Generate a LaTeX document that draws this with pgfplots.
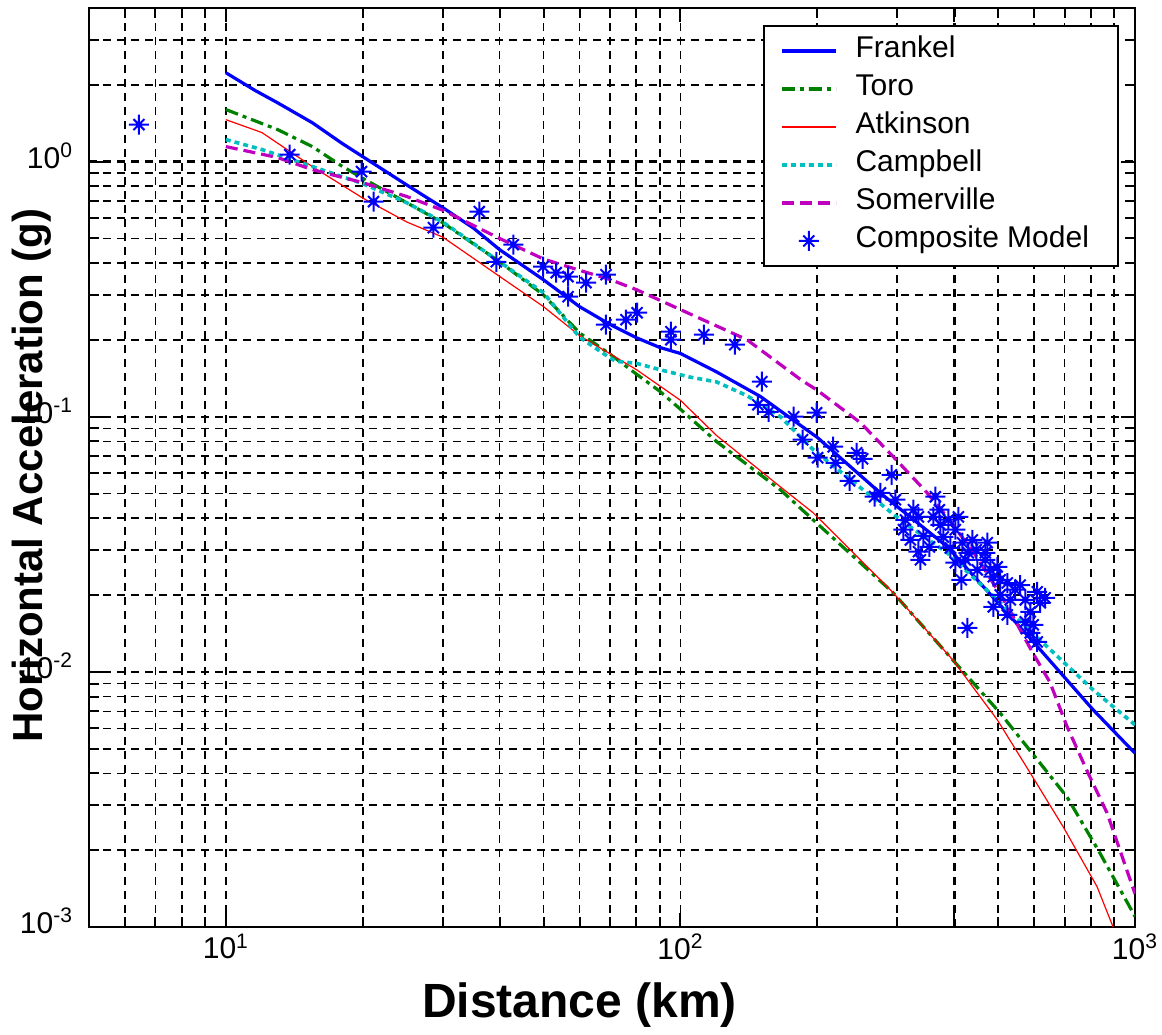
\documentclass[border=0pt]{standalone}
\usepackage{pgfplots}
\pgfplotsset{compat=1.18}
\usepackage{fontspec}
\setmainfont{Liberation Sans}
\setsansfont{Liberation Sans}

\definecolor{mblue}{rgb}{0,0,1}
\definecolor{mgreen}{rgb}{0,0.5,0}
\definecolor{mred}{rgb}{1,0,0}
\definecolor{mcyan}{rgb}{0,0.75,0.75}
\definecolor{mmag}{rgb}{0.75,0,0.75}

\pgfdeclareplotmark{mstar}{%
  \pgfpathmoveto{\pgfqpoint{-\pgfplotmarksize}{0pt}}\pgfpathlineto{\pgfqpoint{\pgfplotmarksize}{0pt}}%
  \pgfpathmoveto{\pgfqpoint{0pt}{-\pgfplotmarksize}}\pgfpathlineto{\pgfqpoint{0pt}{\pgfplotmarksize}}%
  \pgfpathmoveto{\pgfqpoint{-0.55\pgfplotmarksize}{-0.55\pgfplotmarksize}}\pgfpathlineto{\pgfqpoint{0.55\pgfplotmarksize}{0.55\pgfplotmarksize}}%
  \pgfpathmoveto{\pgfqpoint{-0.55\pgfplotmarksize}{0.55\pgfplotmarksize}}\pgfpathlineto{\pgfqpoint{0.55\pgfplotmarksize}{-0.55\pgfplotmarksize}}%
  \pgfusepathqstroke}

\pgfplotstableread{
x y
6.44 1.397
13.82 1.065
19.89 0.914
21.13 0.697
28.61 0.551
36.11 0.637
39.35 0.405
42.89 0.4726
49.9 0.3876
53.3 0.367
56.6 0.354
56.6 0.2955
62.0 0.3353
68.6 0.3604
68.6 0.2295
75.9 0.2401
80.3 0.2557
95.3 0.2154
95.3 0.2004
112.6 0.2097
131.7 0.1916
151.0 0.1372
148.0 0.1114
156.4 0.1046
177.5 0.1
199.4 0.1037
185.7 0.0813
200.4 0.0691
216.8 0.0763
219.5 0.066
235.6 0.0561
244.1 0.0722
251.6 0.0684
275.5 0.0503
291.3 0.0592
267.3 0.0486
325.5 0.0432
333.9 0.0405
363.9 0.0486
309.5 0.0361
342.4 0.0341
333.9 0.0296
353.0 0.0309
371.3 0.0432
360.2 0.0405
402.5 0.0361
417.1 0.0321
447.6 0.0301
473.2 0.0321
402.5 0.0268
415.0 0.02295
429.9 0.0293
449.9 0.0251
487.8 0.0236
523.6 0.0223
559.2 0.0219
609.5 0.0206
618.8 0.01865
487.8 0.01799
523.6 0.01673
573.6 0.0157
588.3 0.01422
609.5 0.0131
427.8 0.01488
497.7 0.0258
545.2 0.021
337.3 0.0275
388.6 0.0395
468.5 0.0275
505.3 0.02004
378.8 0.0338
392.6 0.0306
423.5 0.0275
438.8 0.0329
468.5 0.0293
480.6 0.0251
505.3 0.02295
531.7 0.01916
573.6 0.01916
588.3 0.01719
597.3 0.01529
634.5 0.0195
408.8 0.0405
373.2 0.0377
320.6 0.0329
297.2 0.0473
312.6 0.0394
}\composite

\begin{document}
\begin{tikzpicture}
\begin{axis}[
  name=ax,
  xmode=log, ymode=log,
  scale only axis,
  width=523pt, height=459.5pt,
  xmin=5, xmax=1000, ymin=0.001, ymax=4,
  xtick={10,100,1000},
  xticklabels={10\textsuperscript{1},10\textsuperscript{2},10\textsuperscript{3}},
  minor xtick={6,7,8,9,20,30,40,50,60,70,80,90,200,300,400,500,600,700,800,900},
  ytick={0.001,0.01,0.1,1},
  yticklabels={10\textsuperscript{-3},10\textsuperscript{-2},10\textsuperscript{-1},10\textsuperscript{0}},
  minor ytick={0.002,0.003,0.004,0.005,0.006,0.007,0.008,0.009,0.02,0.03,0.04,0.05,0.06,0.07,0.08,0.09,0.2,0.3,0.4,0.5,0.6,0.7,0.8,0.9,2,3},
  extra x ticks={400}, extra x tick labels={},
  extra y ticks={1}, extra y tick labels={},
  extra x tick style={grid=major, major grid style={black, line width=1.5pt, dash pattern=on 4pt off 3pt}},
  extra y tick style={grid=major, major grid style={black, line width=1.5pt, dash pattern=on 4pt off 3pt}},
  grid=both,
  major grid style={black, line width=0.9pt, dash pattern=on 4pt off 3pt},
  minor grid style={black, line width=0.9pt, dash pattern=on 4pt off 3pt},
  tick align=inside,
  major tick length=7pt, minor tick length=5pt,
  every tick/.style={black, line width=1pt},
  axis line style={line width=1.2pt},
  ticklabel style={font=\fontsize{15}{18}\selectfont},
  yticklabel style={xshift=-4.5pt, yshift=3pt},
  xlabel={Distance (km)},
  ylabel={Horizontal Acceleration (g)},
  xlabel style={font=\fontsize{24}{28}\selectfont\bfseries, at={(rel axis cs:0.469,-0.085)}, anchor=center},
  ylabel style={font=\fontsize{21}{25}\selectfont\bfseries, at={(rel axis cs:-0.044,0.491)}, anchor=base},
  legend image code/.code={\draw[mark repeat=2,mark phase=2,#1] plot coordinates {(0pt,0pt) (13.5pt,0pt) (27pt,0pt)};},
  legend cell align=left,
  legend style={at={(rel axis cs:1,1)}, anchor=north east, xshift=-8pt, yshift=-8.5pt,
    draw=black, line width=1pt, fill=white, font=\fontsize{15}{18}\selectfont,
    row sep=0pt, column sep=9pt, inner xsep=8pt, inner ysep=3pt,
    nodes={text height=11pt, text depth=4pt, inner ysep=2pt, inner xsep=0pt}},
]
\addplot[mblue, line width=1.6pt] coordinates {
(10,2.23) (11.6,1.90) (13,1.70) (15.5,1.42) (18,1.18) (20,1.046) (25,0.81) (30,0.66) (35,0.55) (40,0.452) (50,0.344) (60,0.27) (70,0.23) (80,0.204) (90,0.187) (100,0.177) (120,0.150) (150,0.120) (200,0.083) (275,0.0503) (386,0.031) (600,0.013) (809,0.0071) (1000,0.0048)
};
\addlegendentry{Frankel}
\addplot[mgreen, line width=1.6pt, dash pattern=on 6.5pt off 2.5pt on 2pt off 2.5pt] coordinates {
(10,1.60) (13,1.335) (15.5,1.145) (18,0.96) (20,0.86) (25,0.69) (30,0.576) (40,0.405) (50,0.30) (60,0.213) (70,0.176) (80,0.147) (90,0.126) (100,0.107) (120,0.080) (166,0.0517) (196,0.0394) (294,0.0204) (398,0.0111) (505,0.0069) (709,0.00323) (837,0.00195) (1000,0.0011)
};
\addlegendentry{Toro}
\addplot[mred, line width=0.6pt] coordinates {
(10,1.46) (12,1.30) (15.5,0.956) (20,0.72) (25,0.58) (30,0.506) (40,0.355) (50,0.27) (60,0.208) (80,0.153) (100,0.116) (120,0.0845) (166,0.0531) (196,0.042) (294,0.0204) (398,0.0111) (498,0.00648) (588,0.00402) (695,0.00247) (825,0.00144) (895,0.001)
};
\addlegendentry{Atkinson}
\addplot[mcyan, line width=1.8pt, dash pattern=on 2.5pt off 2pt] coordinates {
(10,1.22) (12,1.115) (15.5,0.956) (20,0.82) (25,0.69) (30,0.58) (40,0.405) (50,0.306) (60,0.205) (68,0.176) (72,0.165) (80,0.162) (90,0.153) (105,0.143) (120,0.137) (140,0.121) (166,0.100) (196,0.0742) (305,0.0394) (386,0.0293) (619,0.0133) (809,0.0085) (1000,0.0062)
};
\addlegendentry{Campbell}
\addplot[mmag, line width=1.6pt, dash pattern=on 6pt off 3pt] coordinates {
(10,1.145) (13,1.037) (15.5,0.93) (20,0.827) (25,0.73) (30,0.645) (40,0.50) (50,0.415) (60,0.375) (70,0.345) (80,0.315) (100,0.263) (140,0.2005) (184,0.1397) (200,0.127) (249,0.0947) (294,0.0697) (349,0.0503) (386,0.0405) (450,0.028) (520,0.0185) (597,0.0118) (650,0.0091) (709,0.0061) (784,0.0041) (868,0.0028) (1000,0.00135)
};
\addlegendentry{Somerville}
\addplot[mblue, only marks, mark=mstar, mark size=5pt, mark options={line width=1pt, solid}] table[x=x, y=y] {\composite};
\addlegendentry{Composite Model\hspace*{6.5pt}}
\end{axis}
\pgfresetboundingbox
\path[use as bounding box] ([xshift=-44.5pt,yshift=-53.5pt]ax.south west) rectangle ([xshift=13.5pt,yshift=4pt]ax.north east);
\end{tikzpicture}
\end{document}
